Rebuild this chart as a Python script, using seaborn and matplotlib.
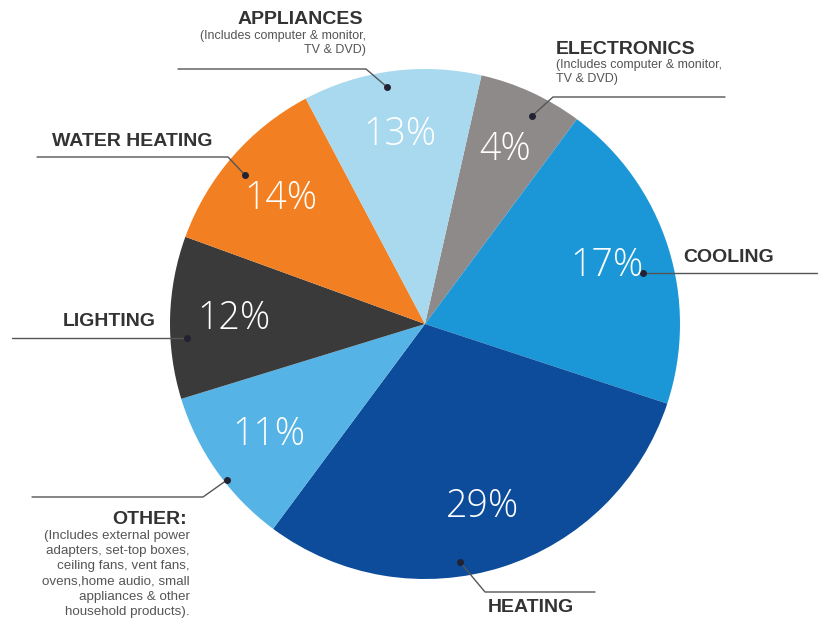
import matplotlib.pyplot as plt
import seaborn as sns

# slices, clockwise starting from the top
categories = ["ELECTRONICS", "COOLING", "HEATING", "OTHER:", "LIGHTING", "WATER HEATING", "APPLIANCES"]
percent_labels = [4, 17, 29, 11, 12, 14, 13]
# slice sizes as drawn in the graphic (the artwork is not drawn to scale)
drawn_share = [6.6, 19.9, 30.1, 10.1, 10.3, 11.7, 11.3]
subtitles = [
    "(Includes computer & monitor,\nTV & DVD)",
    "",
    "",
    "(Includes external power\nadapters, set-top boxes,\nceiling fans, vent fans,\novens,home audio, small\nappliances & other\nhousehold products).",
    "",
    "",
    "(Includes computer & monitor,\nTV & DVD)",
]
colors = ["#8e8a89", "#1b97d8", "#0d4c9a", "#56b3e6", "#3a3a3a", "#f28022", "#a8d9ee"]

W, H = 825, 639

sns.set_style("white")
plt.rcParams['font.family'] = ['Liberation Sans', 'DejaVu Sans']


def Y(y):
    # image coordinates (y down) -> axes data coordinates (y up)
    return H - y


fig = plt.figure(figsize=(W / 100, H / 100), dpi=100)
ax = fig.add_axes([0, 0, 1, 1])

wedges, _, autotexts = ax.pie(
    drawn_share, colors=colors, startangle=77.2, counterclock=False,
    center=(425, Y(324)), radius=255, autopct='%1.0f', pctdistance=0.75,
    wedgeprops=dict(linewidth=0), frame=False,
)
for t, p in zip(autotexts, percent_labels):
    t.set_text(f"{p}%")
    t.set_color("white")
    t.set_fontsize(27)
    t.set_family(['Open Sans', 'DejaVu Sans'])
    t.set_fontweight('light')

ax.set_xlim(0, W)
ax.set_ylim(0, H)
ax.set_aspect('equal')
ax.axis('off')

# callout layout: dot, elbow, line end x, title anchor, alignment, subtitle size
callouts = {
    "ELECTRONICS": ((532, 116), (553, 97), 725, (556, 49), 'left', 9),
    "COOLING": ((643, 273), (643, 273), 817, (683, 257), 'left', 9),
    "HEATING": ((460, 562), (485, 592), 595, (488, 607), 'left', 9),
    "OTHER:": ((227, 480), (203, 497), 32, (187, 520), 'right', 9.6),
    "LIGHTING": ((187, 338), (167, 338), 12, (156, 322), 'right', 9),
    "WATER HEATING": ((245, 175), (228, 157), 37, (212, 142), 'right', 9),
    "APPLIANCES": ((387, 87), (366, 69), 178, (363, 20), 'right', 9),
}

line_kw = dict(color="#555555", lw=1.0)
for name, sub in zip(categories, subtitles):
    dot, elbow, end_x, (tx, ty), ha, sub_size = callouts[name]
    ax.plot([dot[0], elbow[0], end_x], [Y(dot[1]), Y(elbow[1]), Y(elbow[1])], **line_kw)
    ax.plot(dot[0], Y(dot[1]), 'o', color="#222233", ms=4)
    ax.text(tx, Y(ty), name, ha=ha, va='center', fontsize=14,
            fontweight='bold', color="#333333")
    if sub:
        ax.text(tx + (3 if ha == 'right' else 0), Y(ty + 10), sub, ha=ha, va='top',
                fontsize=sub_size, color="#555555",
                linespacing=1.35 if sub_size > 9 else 1.2)

fig.savefig("out.png", dpi=100)
